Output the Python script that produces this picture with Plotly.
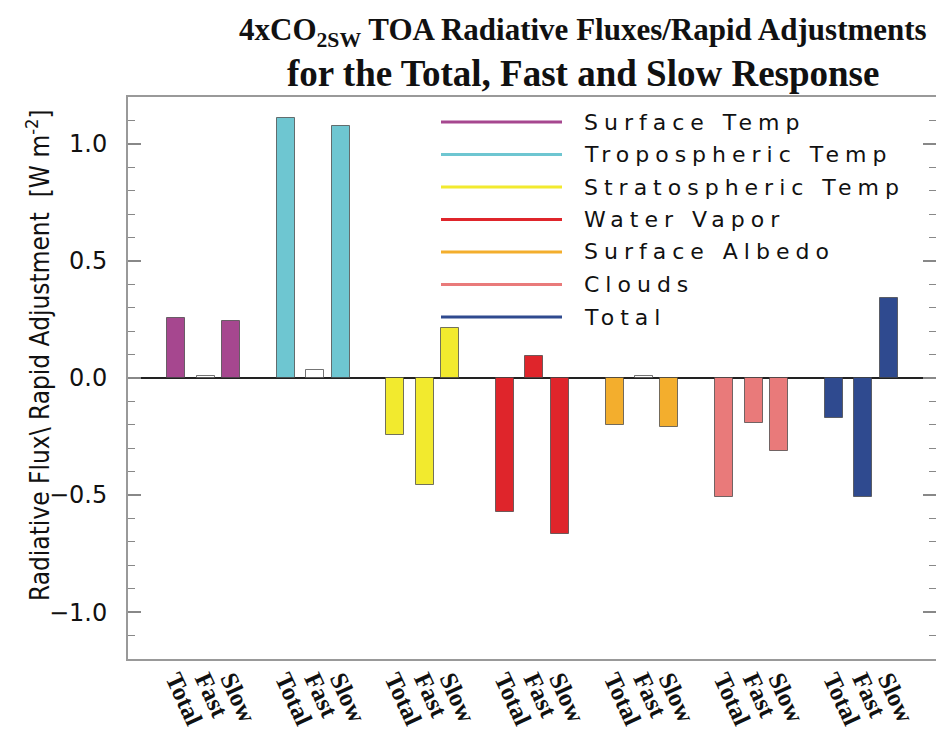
import json
import plotly.graph_objects as go

# Flux components and the three response types
components = ["Surface Temp", "Tropospheric Temp", "Stratospheric Temp",
              "Water Vapor", "Surface Albedo", "Clouds", "Total"]
responses = ["Total", "Fast", "Slow"]

# TOA radiative flux / rapid adjustment (W m-2)
total_resp = [0.255, 1.111, -0.244, -0.574, -0.201, -0.507, -0.172]
fast_resp = [0.010, 0.034, -0.457, 0.093, 0.008, -0.194, -0.507]
slow_resp = [0.245, 1.078, 0.214, -0.667, -0.211, -0.311, 0.341]

y_ticks = [-1.0, -0.5, 0.0, 0.5, 1.0]
y_ticktext = ["\u22121.0", "\u22120.5", "0.0", "0.5", "1.0"]

title_lines = ["4xCO<sub>2SW</sub> TOA Radiative Fluxes/Rapid Adjustments",
               "for the Total, Fast and Slow Response"]
y_title = "Radiative Flux\\ Rapid Adjustment  [W m<sup>-2</sup>]"

# ---- styling ----
colors = ["#A6478F", "#6EC6D1", "#F2EA2E", "#DF252B", "#F3AE2D", "#E97A7A", "#2F4A8F"]
fast_open = [True, True, False, False, True, False, False]   # drawn as hollow bars

W, H = 936, 741
L, R, T, B = 128, 936, 97, 659           # plot area in pixels
GROUP_PX = 109.6                           # pixel width of one component group
X0_PX = 205.6                              # pixel centre of the first group
offsets = [-0.268, 0.0, 0.232]             # Total / Fast / Slow offsets within a group
bar_w = 0.164
xr = [(L - X0_PX) / GROUP_PX, (R - X0_PX) / GROUP_PX]
yr = [-1.2, 1.2]


def px_x(p):
    return (p - L) / (R - L)


def px_y(p):
    return (B - p) / (B - T)


fig = go.Figure()

tickvals, ticktext = [], []
for g, comp in enumerate(components):
    vals = [total_resp[g], fast_resp[g], slow_resp[g]]
    xs = [g + o for o in offsets]
    fills = [colors[g], "white" if fast_open[g] else colors[g], colors[g]]
    fig.add_trace(go.Bar(
        x=xs, y=vals, width=bar_w, name=comp,
        marker=dict(color=fills, line=dict(color="rgba(70,70,70,0.75)", width=1)),
        showlegend=False, hovertemplate=comp + " %{y:.2f}<extra></extra>",
    ))
    tickvals += xs
    ticktext += responses

# invisible trace so the right-hand tick axis is rendered
fig.add_trace(go.Scatter(x=[None], y=[None], yaxis="y2", showlegend=False, hoverinfo="skip"))

# hand-drawn legend: coloured line samples with labels
leg_top, leg_step = 122, 32.5
shapes, annotations = [], []
for i, comp in enumerate(components):
    yy = px_y(leg_top + i * leg_step)
    shapes.append(dict(type="line", xref="paper", yref="paper",
                       x0=px_x(441), x1=px_x(562), y0=yy, y1=yy,
                       line=dict(color=colors[i], width=3)))
    annotations.append(dict(xref="paper", yref="paper", x=px_x(582), y=yy,
                            xanchor="left", yanchor="middle", align="left",
                            showarrow=False, text=comp,
                            font=dict(family="DejaVu Sans", size=22, color="#111")))

# two-line title, tight leading
for txt, yc, sz in [(title_lines[0], 32, 31), (title_lines[1], 74, 37)]:
    annotations.append(dict(xref="paper", yref="paper", x=px_x(583), y=px_y(yc),
                            xanchor="center", yanchor="middle", showarrow=False,
                            text=txt,
                            font=dict(family="Liberation Serif", size=sz, color="#111",
                                      weight="bold")))

# vertical axis title
annotations.append(dict(xref="paper", yref="paper", x=px_x(38), y=px_y(355),
                        xanchor="center", yanchor="middle", showarrow=False,
                        textangle=-90, text=y_title,
                        font=dict(family="Liberation Sans Narrow, DejaVu Sans Condensed",
                                  size=26, color="#111")))

fig.update_layout(
    width=W, height=H,
    margin=dict(l=L, r=W - R, t=T, b=H - B),
    paper_bgcolor="white", plot_bgcolor="white",
    bargap=0,
    xaxis=dict(
        range=xr, showgrid=False, zeroline=False,
        showline=True, mirror=True, linecolor="#999", linewidth=2,
        ticks="", tickmode="array", tickvals=tickvals, ticktext=ticktext,
        tickangle=65, ticklabelstandoff=-6,
        tickfont=dict(family="Liberation Serif", size=25, color="#111", weight="bold"),
    ),
    yaxis=dict(
        range=yr, showgrid=False,
        zeroline=True, zerolinecolor="#222", zerolinewidth=1.5,
        showline=True, mirror=False, linecolor="#999", linewidth=2,
        ticks="inside", ticklen=13, tickwidth=1.5, tickcolor="#888",
        tickmode="array", tickvals=y_ticks, ticktext=y_ticktext,
        minor=dict(ticks="inside", dtick=0.1, tick0=0, ticklen=7, tickwidth=1.2, tickcolor="#888"),
        tickfont=dict(family="DejaVu Sans", size=24, color="#111"),
        ticklabelstandoff=14,
    ),
    yaxis2=dict(
        overlaying="y", side="right", anchor="x", range=yr,
        showgrid=False, zeroline=False, showline=False, showticklabels=False,
        ticks="inside", ticklen=13, tickwidth=1.5, tickcolor="#888",
        tickmode="array", tickvals=y_ticks,
        minor=dict(ticks="inside", dtick=0.1, tick0=0, ticklen=7, tickwidth=1.2, tickcolor="#888"),
    ),
    shapes=shapes,
    annotations=annotations,
)

# widen the tracking of the legend labels
post = """
var gd = document.getElementById('{plot_id}');
var names = NAMES;
gd.querySelectorAll('.annotation-text').forEach(function(t){
  if (names.indexOf(t.textContent) >= 0) { t.style.letterSpacing = '6px'; }
});
""".replace("NAMES", json.dumps(components))

fig.write_html("out.html", post_script=post)
